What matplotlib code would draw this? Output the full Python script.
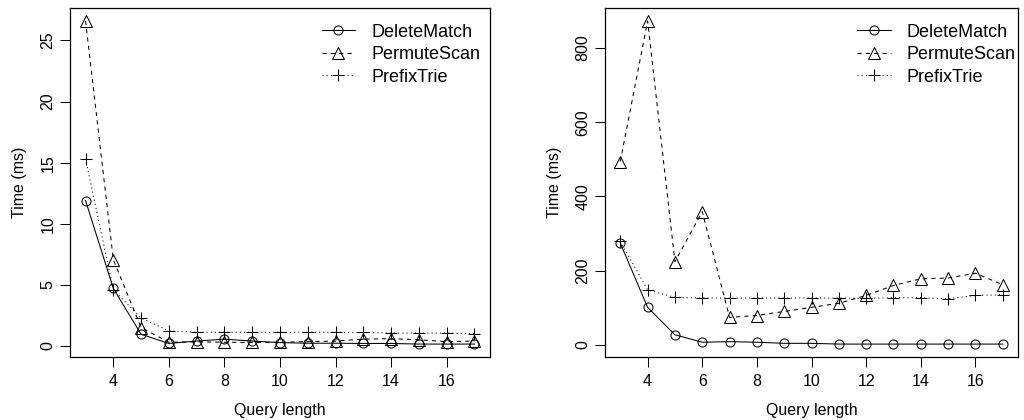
import matplotlib
matplotlib.use("Agg")
import matplotlib.pyplot as plt
import numpy as np

plt.rcParams['font.family'] = ['Liberation Sans', 'DejaVu Sans']

query_length = [3, 4, 5, 6, 7, 8, 9, 10, 11, 12, 13, 14, 15, 16, 17]

# Left panel (Time in ms)
left_delete = [11.9, 4.7, 0.95, 0.2, 0.4, 0.55, 0.4, 0.27, 0.22, 0.22, 0.2, 0.2, 0.15, 0.15, 0.15]
left_permute = [26.6, 7.05, 1.5, 0.3, 0.33, 0.3, 0.28, 0.3, 0.35, 0.4, 0.55, 0.6, 0.5, 0.35, 0.4]
left_prefix = [15.3, 4.6, 2.27, 1.23, 1.12, 1.12, 1.12, 1.12, 1.12, 1.12, 1.1, 1.05, 1.05, 1.05, 1.0]

# Right panel (Time in ms)
right_delete = [274, 101, 27, 7, 8.5, 7, 4, 4, 2, 2, 2, 2, 2, 2, 2]
right_permute = [494, 873, 224, 359, 74, 79, 90, 101, 112, 133, 160, 178, 180, 193, 162]
right_prefix = [279, 148, 128, 126, 126, 126, 126, 126, 126, 125, 127, 127, 124, 133, 135]

series_names = ["DeleteMatch", "PermuteScan", "PrefixTrie"]
x_ticks = [4, 6, 8, 10, 12, 14, 16]
left_yticks = [0, 5, 10, 15, 20, 25]
right_yticks = [0, 200, 400, 600, 800]

W, H = 1024, 420
fig = plt.figure(figsize=(W / 100, H / 100), dpi=100)

ax_l = fig.add_axes([70 / W, (H - 357) / H, 420 / W, 349 / H])
ax_r = fig.add_axes([605 / W, (H - 357) / H, 413 / W, 349 / H])

styles = [
    dict(marker='o', linestyle='-', markersize=6.5),
    dict(marker='^', linestyle=(0, (4, 4)), markersize=8),
    dict(marker='+', linestyle=(0, (1, 3)), markersize=8.8),
]

def draw(ax, data, yticks, leg_x):
    for ys, st, name in zip(data, styles, series_names):
        ax.plot(query_length, ys, color='black', linewidth=0.75,
                markerfacecolor='none', markeredgecolor='black',
                markeredgewidth=0.75, label=name, **st)
    allv = np.concatenate([np.asarray(d, float) for d in data])
    lo, hi = allv.min(), allv.max()
    r = hi - lo
    ax.set_ylim(lo - 0.04 * r, hi + 0.04 * r)
    xr = max(query_length) - min(query_length)
    ax.set_xlim(min(query_length) - 0.04 * xr, max(query_length) + 0.04 * xr)
    ax.set_xticks(x_ticks)
    ax.set_yticks(yticks)
    ax.tick_params(axis='both', direction='out', length=7, width=0.75,
                   labelsize=11.5, color='black')
    ax.tick_params(axis='x', pad=5)
    ax.tick_params(axis='y', pad=3.5)
    for lab in ax.get_yticklabels():
        lab.set_rotation(90)
        lab.set_va('center')
    for s in ax.spines.values():
        s.set_linewidth(0.9)
    ax.set_xlabel("Query length", fontsize=11.5, labelpad=10)
    ax.set_ylabel("Time (ms)", fontsize=11.5, labelpad=10)
    ax.legend(loc='upper left', bbox_to_anchor=(leg_x, 0.955), frameon=False,
              fontsize=13, handlelength=1.86, handletextpad=0.9,
              labelspacing=0.3, borderpad=0, borderaxespad=0)

draw(ax_l, [left_delete, left_permute, left_prefix], left_yticks, 0.599)
draw(ax_r, [right_delete, right_permute, right_prefix], right_yticks, 0.610)

fig.savefig("out.png", dpi=100)
